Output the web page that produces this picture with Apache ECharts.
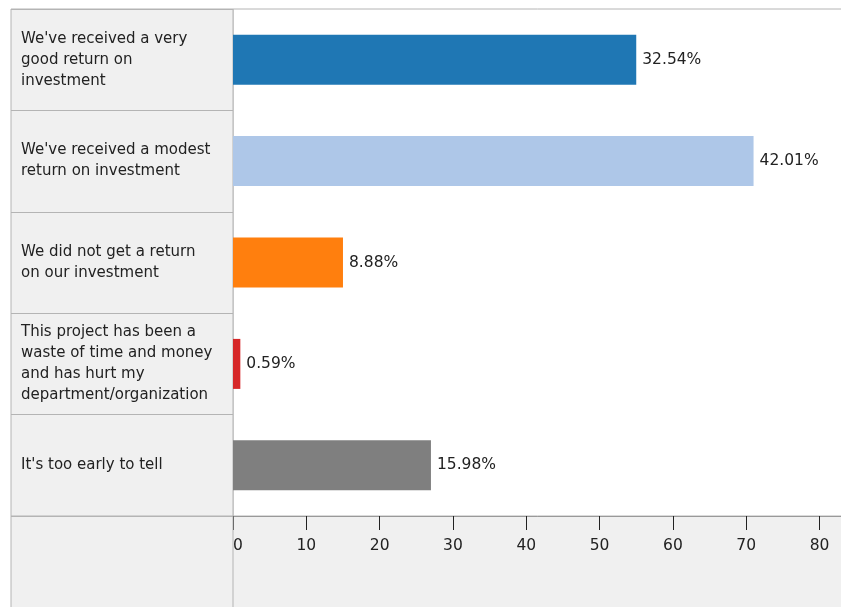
<!DOCTYPE html>
<html>
<head>
<meta charset="utf-8">
<script src="https://cdn.jsdelivr.net/npm/echarts@6/dist/echarts.min.js"></script>
<style>
  html, body { margin: 0; padding: 0; background: #ffffff; }
  #chart { width: 841px; height: 607px; }
</style>
</head>
<body>
<div id="chart"></div>
<script>
// Survey answers (wrapped the way they are printed in the side panel)
const categories = [
  "We've received a very\ngood return on\ninvestment",
  "We've received a modest\nreturn on investment",
  "We did not get a return\non our investment",
  "This project has been a\nwaste of time and money\nand has hurt my\ndepartment/organization",
  "It's too early to tell"
];
// Number of respondents per answer
const counts = [55, 71, 15, 1, 27];
const barColors = ['#1f77b4', '#aec7e8', '#ff7f0e', '#d62728', '#7f7f7f'];
const xTicks = [0, 10, 20, 30, 40, 50, 60, 70, 80];

const total = counts.reduce((a, b) => a + b, 0);
const pct = v => (v / total * 100).toFixed(2) + '%';

const FONT = 'DejaVu Sans';
const TEXT = '#222222';
const EDGE = '#b4b4b4';

const chart = echarts.init(document.getElementById('chart'), null, { renderer: 'canvas' });

chart.setOption({
  animation: false,
  backgroundColor: '#ffffff',
  textStyle: { fontFamily: FONT },
  grid: [
    // bar area (right edge runs past the page)
    { left: 233, right: -2, top: 9, bottom: 91, show: true, backgroundColor: '#ffffff',
      borderColor: EDGE, borderWidth: 1, containLabel: false, outerBoundsMode: 'none' },
    // answer panel
    { left: 11, width: 222, top: 9, bottom: 91, show: true, backgroundColor: '#f0f0f0',
      borderColor: EDGE, borderWidth: 1, containLabel: false, outerBoundsMode: 'none' }
  ],
  xAxis: [
    {
      gridIndex: 0, type: 'value', min: xTicks[0], max: 83.2, interval: 10,
      axisLine: { show: true, lineStyle: { color: '#999999', width: 1 } },
      axisTick: { show: true, length: 14, lineStyle: { color: TEXT, width: 1 } },
      splitLine: { show: false },
      axisLabel: {
        show: true, margin: 22, fontSize: 15.5, color: TEXT, fontFamily: FONT,
        showMaxLabel: false, alignMinLabel: 'left',
        formatter: v => xTicks.indexOf(v) >= 0 ? String(v) : ''
      }
    },
    { gridIndex: 1, type: 'value', show: false, min: 0, max: 1 }
  ],
  yAxis: [
    {
      gridIndex: 0, type: 'category', data: categories, inverse: true,
      axisLine: { show: false }, axisTick: { show: false }, axisLabel: { show: false },
      splitLine: { show: false }
    },
    {
      gridIndex: 1, type: 'category', data: categories, inverse: true,
      axisLine: { show: false }, axisTick: { show: false },
      splitLine: { show: true, lineStyle: { color: EDGE, width: 1 } },
      axisLabel: {
        inside: true, margin: 10, align: 'left', fontSize: 15, lineHeight: 21,
        color: TEXT, fontFamily: FONT
      }
    }
  ],
  graphic: [
    // strip under the axis
    { type: 'rect', z: -1, silent: true,
      shape: { x: 11, y: 516, width: 832, height: 92 },
      style: { fill: '#f0f0f0', stroke: EDGE, lineWidth: 1 } },
    { type: 'line', z: 5, silent: true,
      shape: { x1: 233, y1: 516, x2: 233, y2: 607 },
      style: { stroke: EDGE, lineWidth: 1 } }
  ],
  series: [
    {
      type: 'bar', xAxisIndex: 0, yAxisIndex: 0,
      data: counts.map((v, i) => ({ value: v, itemStyle: { color: barColors[i] } })),
      barWidth: 50,
      label: {
        show: true, position: 'right', distance: 6, fontSize: 15.5, color: TEXT,
        fontFamily: FONT, formatter: p => pct(p.value)
      }
    }
  ]
});
</script>
</body>
</html>
